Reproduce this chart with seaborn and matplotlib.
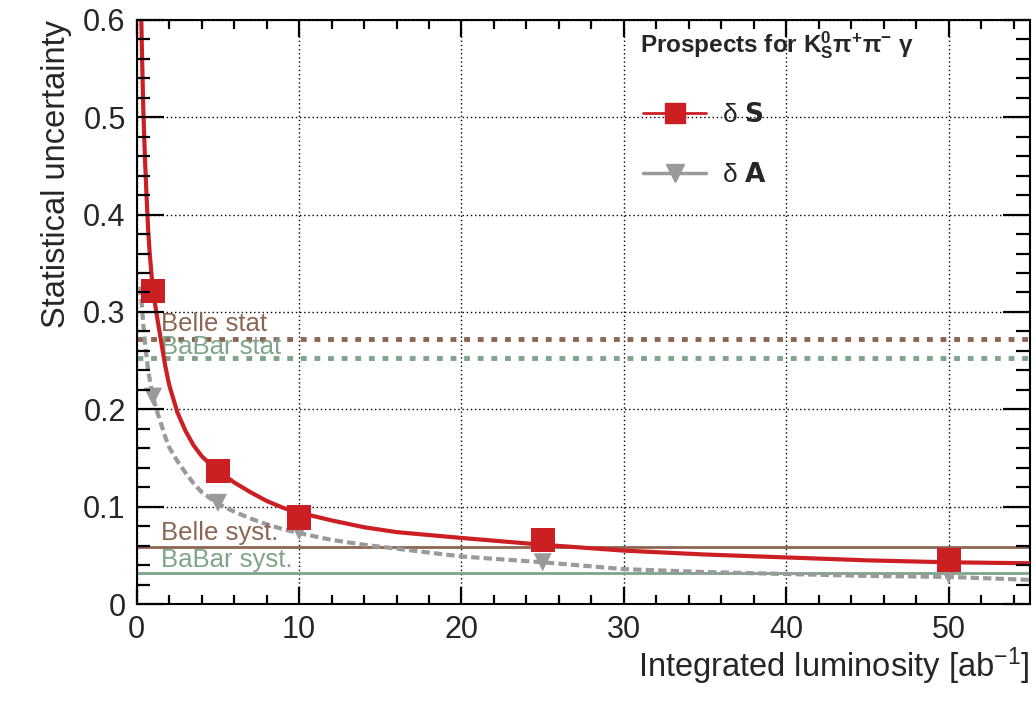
import matplotlib
matplotlib.use("Agg")
import matplotlib.pyplot as plt
from matplotlib.lines import Line2D
from matplotlib.collections import LineCollection
from matplotlib.ticker import FixedFormatter, FixedLocator
import seaborn as sns
import pandas as pd

# measured points
lumi_pts = [1, 5, 10, 25, 50]
dS_pts = [0.322, 0.137, 0.089, 0.066, 0.045]
dA_pts = [0.213, 0.104, 0.075, 0.043, 0.030]

# fitted curves
fitS_x = [0.28, 0.33, 0.4, 0.5, 0.6, 0.7, 0.8, 0.9, 1, 1.25, 1.5, 1.75, 2, 2.5, 3, 3.5, 4, 4.5, 5,
          6, 7, 8, 9, 10, 12, 14, 16, 18, 20, 25, 30, 35, 40, 45, 50, 55]
fitS_y = [0.6, 0.56, 0.51, 0.46, 0.42, 0.385, 0.36, 0.34, 0.322, 0.295, 0.27, 0.245, 0.225,
          0.197, 0.178, 0.163, 0.152, 0.144, 0.137, 0.125, 0.115, 0.106, 0.099, 0.094,
          0.086, 0.079, 0.074, 0.071, 0.068, 0.061, 0.055, 0.051, 0.048, 0.045, 0.043, 0.042]
fitA_x = [0.2, 0.25, 0.3, 0.4, 0.5, 0.6, 0.7, 0.85, 1, 1.25, 1.5, 1.75, 2, 2.5, 3, 3.5, 4, 4.5,
          5, 6, 7, 8, 9, 10, 12, 14, 16, 18, 20, 25, 30, 35, 40, 45, 50, 55]
fitA_y = [0.326, 0.318, 0.31, 0.288, 0.27, 0.255, 0.24, 0.226, 0.213, 0.198, 0.185, 0.172,
          0.161, 0.147, 0.135, 0.124, 0.115, 0.109, 0.103, 0.095, 0.088, 0.082, 0.077,
          0.073, 0.066, 0.061, 0.057, 0.053, 0.049, 0.043, 0.036, 0.033, 0.031, 0.029,
          0.028, 0.025]

# reference lines
belle_stat = 0.272
babar_stat = 0.253
belle_syst = 0.0586
babar_syst = 0.032

# axis ticks
x_major = [0, 10, 20, 30, 40, 50]
x_minor = [v for v in range(0, 56, 2) if v % 10]
y_major = [0, 0.1, 0.2, 0.3, 0.4, 0.5, 0.6]
y_labels = ["0", "0.1", "0.2", "0.3", "0.4", "0.5", "0.6"]
y_minor = [round(0.02 * i, 2) for i in range(31) if i % 5]

red = "#cc1f24"
grey = "#9a9a9a"
brown = "#8c6652"
green = "#7fa48c"

sns.set_style("ticks")
plt.rcParams["font.family"] = ["Liberation Sans", "DejaVu Sans"]
plt.rcParams["mathtext.default"] = "regular"

fig = plt.figure(figsize=(10.36, 7.05), dpi=100)
ax = fig.add_axes([0.132, 0.143, 0.862, 0.829])

fitS = pd.DataFrame({"x": fitS_x, "y": fitS_y})
fitA = pd.DataFrame({"x": fitA_x, "y": fitA_y})
sns.lineplot(data=fitA, x="x", y="y", ax=ax, color=grey, lw=3, linestyle=(0, (2, 1)), zorder=3)
sns.lineplot(data=fitS, x="x", y="y", ax=ax, color=red, lw=3, zorder=4)

pts = pd.DataFrame({"lumi": lumi_pts, "dS": dS_pts, "dA": dA_pts})
sns.scatterplot(data=pts, x="lumi", y="dA", ax=ax, marker="v", s=170, color=grey,
                edgecolor="none", zorder=5)
sns.scatterplot(data=pts, x="lumi", y="dS", ax=ax, marker="s", s=300, color=red,
                edgecolor="none", zorder=6)

ax.axhline(belle_stat, color=brown, lw=3.5, linestyle=(0, (1.2, 1.6)), zorder=2)
ax.axhline(babar_stat, color=green, lw=3.5, linestyle=(0, (1.2, 1.6)), zorder=2)
ax.axhline(belle_syst, color=brown, lw=2, zorder=2)
ax.axhline(babar_syst, color=green, lw=2, zorder=2)

ax.text(1.5, 0.288, "Belle stat", color=brown, fontsize=18.5, va="center")
ax.text(1.5, 0.264, "BaBar stat", color=green, fontsize=18.5, va="center")
ax.text(1.5, 0.073, "Belle syst.", color=brown, fontsize=18.5, va="center")
ax.text(1.5, 0.045, "BaBar syst.", color=green, fontsize=18.5, va="center")

ax.set_xlim(0, 55)
ax.set_ylim(0, 0.6)
ax.xaxis.set_major_locator(FixedLocator(x_major))
ax.yaxis.set_major_locator(FixedLocator(y_major))
ax.yaxis.set_major_formatter(FixedFormatter(y_labels))
ax.minorticks_off()
ax.tick_params(which="both", direction="in", length=0, labelsize=22, pad=8)
ax.grid(True, which="major", color="black", linestyle=(0, (1, 2)), lw=1)
for s in ax.spines.values():
    s.set_linewidth(1.5)
    s.set_color("black")

ax.set_xlabel("Integrated luminosity [ab$^{-1}$]", fontsize=23.5, loc="right", labelpad=0)
ax.set_ylabel("Statistical uncertainty", fontsize=23.5, loc="top", labelpad=8)

ax.text(0.563, 0.957, r"Prospects for K$^{0}_{S}$π$^{+}$π$^{-}$ γ",
        transform=ax.transAxes, fontsize=17.5, fontweight="bold", va="center")

handles = [
    Line2D([], [], color=red, lw=2, marker="s", markersize=15),
    Line2D([], [], color=grey, lw=2.5, marker="v", markersize=13),
]
labels = [r"δ $\mathbf{S}$", r"δ $\mathbf{A}$"]
ax.legend(handles, labels, loc="upper left", bbox_to_anchor=(0.567, 0.857),
          frameon=False, fontsize=19, handlelength=2.4, labelspacing=1.35,
          borderpad=0, borderaxespad=0, handletextpad=0.6)

# ROOT-style inward ticks on all four sides, added at figure level
xt = ax.get_xaxis_transform()
yt = ax.get_yaxis_transform()
x_segs, y_segs = [], []
for vals, ln in [(x_major, 0.03), (x_minor, 0.015)]:
    for v in vals:
        x_segs.append([(v, 0), (v, ln)])
        x_segs.append([(v, 1 - ln), (v, 1)])
for vals, ln in [(y_major, 0.03), (y_minor, 0.015)]:
    for v in vals:
        y_segs.append([(0, v), (ln, v)])
        y_segs.append([(1 - ln, v), (1, v)])
fig.add_artist(LineCollection(x_segs, colors="black", linewidths=1.6, transform=xt, zorder=20))
fig.add_artist(LineCollection(y_segs, colors="black", linewidths=1.6, transform=yt, zorder=20))

fig.savefig("out.png", dpi=100)
